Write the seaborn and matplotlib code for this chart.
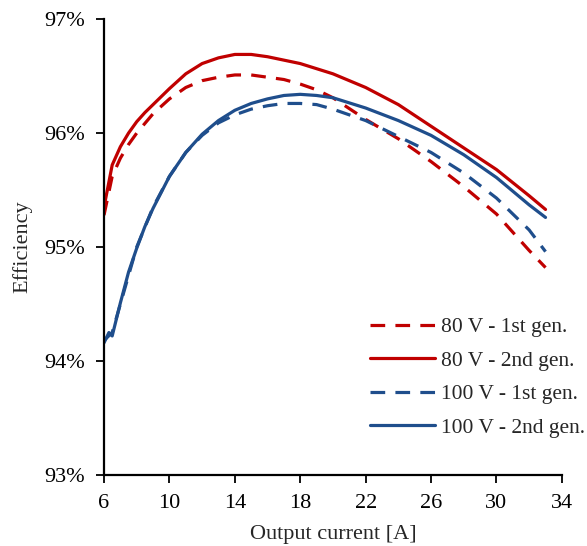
import numpy as np
import pandas as pd
import matplotlib
matplotlib.use("Agg")
import matplotlib.pyplot as plt
import seaborn as sns
from matplotlib.ticker import FuncFormatter

sns.set_theme(style="ticks")
plt.rcParams['font.family'] = ['Liberation Serif', 'DejaVu Serif']

# ---- data (efficiency in %) ----
x_80_1 = [6, 6.5, 7, 7.5, 8, 9, 10, 11, 12, 13, 14, 15, 16, 17, 18, 19, 20, 22, 24, 26, 28, 30, 32, 33]
y_80_1 = [95.28, 95.62, 95.78, 95.90, 96.00, 96.17, 96.30, 96.40, 96.46, 96.49, 96.51, 96.51, 96.49,
          96.47, 96.43, 96.38, 96.31, 96.12, 95.95, 95.75, 95.53, 95.29, 94.97, 94.82]

x_80_2 = [6, 6.5, 7, 7.5, 8, 8.5, 9, 9.5, 10, 11, 12, 13, 14, 15, 16, 18, 20, 22, 24, 26, 28, 30, 32, 33]
y_80_2 = [95.35, 95.72, 95.88, 96.00, 96.10, 96.18, 96.25, 96.32, 96.39, 96.52, 96.61, 96.66,
          96.69, 96.69, 96.67, 96.61, 96.52, 96.40, 96.25, 96.06, 95.87, 95.68, 95.45, 95.33]

x_100_1 = [6, 6.5, 7, 8, 9, 10, 11, 12, 13, 14, 15, 16, 17, 18, 19, 20, 22, 24, 26, 28, 30, 32, 33]
y_100_1 = [94.18, 94.25, 94.50, 95.00, 95.35, 95.62, 95.83, 95.98, 96.09, 96.16, 96.21, 96.24,
           96.26, 96.26, 96.25, 96.21, 96.11, 95.97, 95.83, 95.65, 95.43, 95.15, 94.96]

x_100_2 = [6, 6.3, 6.5, 7, 7.5, 8, 8.5, 9, 10, 11, 12, 13, 14, 15, 16, 17, 18, 19, 20, 22, 24,
           26, 28, 30, 32, 33]
y_100_2 = [94.16, 94.25, 94.22, 94.51, 94.78, 94.99, 95.18, 95.34, 95.62, 95.83, 95.99, 96.11,
           96.20, 96.26, 96.30, 96.33, 96.34, 96.33, 96.31, 96.22, 96.11, 95.98, 95.81, 95.61,
           95.37, 95.26]

labels = ["80 V - 1st gen.", "80 V - 2nd gen.", "100 V - 1st gen.", "100 V - 2nd gen."]
x_ticks = [6, 10, 14, 18, 22, 26, 30, 34]
y_ticks = [93, 94, 95, 96, 97]

frames = []
for lab, xs, ys in zip(labels, [x_80_1, x_80_2, x_100_1, x_100_2],
                       [y_80_1, y_80_2, y_100_1, y_100_2]):
    frames.append(pd.DataFrame({"current": xs, "eff": ys, "series": lab}))
df = pd.concat(frames, ignore_index=True)

red = "#C00000"
blue = "#1F4E8C"
palette = {labels[0]: red, labels[1]: red, labels[2]: blue, labels[3]: blue}
dashes = {labels[0]: (4.6, 3.2), labels[1]: "", labels[2]: (4.6, 3.2), labels[3]: ""}

fig = plt.figure(figsize=(5.87, 5.46), dpi=100)
ax = fig.add_axes([0.1772, 0.130, 0.7800, 0.835])

sns.lineplot(data=df, x="current", y="eff", hue="series", style="series",
             palette=palette, dashes=dashes, hue_order=labels, style_order=labels,
             linewidth=2.3, ax=ax, estimator=None, sort=True)

FS = 16
ax.set_xlim(6, 34)
ax.set_ylim(93, 97)
ax.set_xticks(x_ticks)
ax.set_yticks(y_ticks)
ax.yaxis.set_major_formatter(FuncFormatter(lambda v, p: f"{v:.0f}%"))
ax.tick_params(axis="both", direction="out", length=6, width=1.3, labelsize=FS,
               colors="black")
ax.tick_params(axis="y", pad=8)
ax.tick_params(axis="x", pad=8)
for s in ["top", "right"]:
    ax.spines[s].set_visible(False)
for s in ["left", "bottom"]:
    ax.spines[s].set_linewidth(1.6)
    ax.spines[s].set_color("black")

ax.set_xlabel("Output current [A]", fontsize=FS, labelpad=8)
ax.set_ylabel("Efficiency", fontsize=FS, labelpad=8)

leg = ax.legend(loc="center left", bbox_to_anchor=(0.581, 0.214), frameon=False,
                fontsize=FS - 0.5, handlelength=3.0, handletextpad=0.3, labelspacing=0.63,
                borderpad=0, borderaxespad=0)
for line in leg.get_lines():
    line.set_linewidth(2.3)

fig.savefig("out.png", dpi=100)
